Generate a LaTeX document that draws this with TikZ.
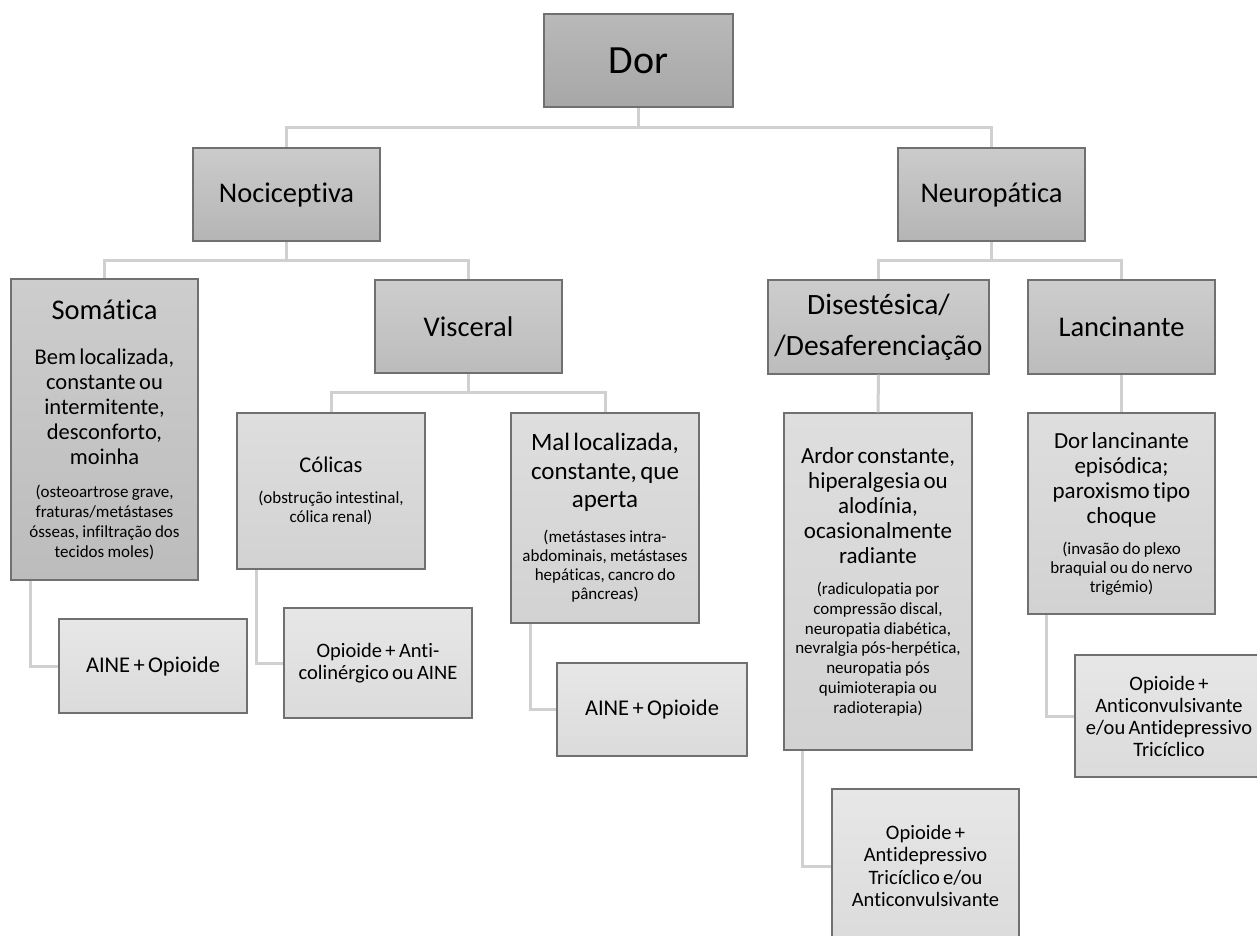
\documentclass[tikz,border=0pt]{standalone}
\usepackage{fontspec}
\setmainfont[RawFeature={-liga;-calt;-dlig;-clig}]{Carlito}
\newcommand\fs[2]{\fontsize{#1pt}{#2pt}\selectfont}
\definecolor{bordc}{HTML}{707070}
\definecolor{connc}{HTML}{D0D0D0}
\definecolor{gat}{HTML}{B9B9B9}\definecolor{gab}{HTML}{A7A7A7}
\definecolor{gbt}{HTML}{CBCBCB}\definecolor{gbb}{HTML}{B5B5B5}
\definecolor{gct}{HTML}{CDCDCD}\definecolor{gcb}{HTML}{BCBCBC}
\definecolor{gdt}{HTML}{DEDEDE}\definecolor{gdb}{HTML}{D2D2D2}
\definecolor{get}{HTML}{E7E7E7}\definecolor{geb}{HTML}{DBDBDB}
\begin{document}
\begin{tikzpicture}[x=1pt,y=-1pt,
  box/.style={draw=bordc, line width=1.3pt, align=center, inner xsep=3pt, inner ysep=0pt, text=black},
  la/.style={box, top color=gat, bottom color=gab},
  lb/.style={box, top color=gbt, bottom color=gbb},
  lc/.style={box, top color=gct, bottom color=gcb},
  ld/.style={box, top color=gdt, bottom color=gdb},
  le/.style={box, top color=get, bottom color=geb},
  conn/.style={draw=connc, line width=3pt}]
\useasboundingbox (0,0) rectangle (1257,936);

\node[la, minimum width=189pt, text width=183pt, minimum height=93pt] (dor) at (638.5,60.5) {\fs{40}{46}Dor};
\node[lb, minimum width=187pt, text width=181pt, minimum height=93pt] (noc) at (286.5,194.5) {\fs{28.5}{33}Nociceptiva};
\node[lb, minimum width=187pt, text width=181pt, minimum height=93pt] (neu) at (991.5,194.5) {\fs{28.5}{33}Neuropática};

\node[lc, minimum width=187pt, text width=181pt, minimum height=301pt] (som) at (104.5,429.5)
 {\fs{28.5}{33}Somática\par\vspace{20pt}\fs{22.5}{25}Bem localizada,\\constante ou\\intermitente,\\desconforto,\\moinha\par\vspace{13pt}\fs{17}{20}(osteoartrose grave,\\fraturas/metástases\\ósseas, infiltração dos\\tecidos moles)\par};
\node[lc, minimum width=187pt, text width=181pt, minimum height=93pt] (vis) at (468.5,326.5) {\fs{28.5}{33}Visceral};

\node[lc, minimum width=221pt, text width=215pt, minimum height=94pt] (dis) at (878.5,327) {\fs{29.5}{41}Disestésica/\\/Desaferenciação\par};
\node[lc, minimum width=187pt, text width=181pt, minimum height=94pt] (lan) at (1121.5,327) {\fs{28.5}{33}Lancinante};

\node[ld, minimum width=188pt, text width=182pt, minimum height=156pt] (col) at (331,491)
 {\fs{22.5}{25}Cólicas\par\vspace{12pt}\fs{17}{19}(obstrução intestinal,\\cólica renal)\par};
\node[ld, minimum width=188pt, text width=182pt, minimum height=210pt] (mal) at (605,518)
 {\fs{25}{28.5}Mal localizada,\\constante, que\\aperta\par\vspace{16pt}\fs{17}{19}(metástases intra-\\abdominais, metástases\\hepáticas, cancro do\\pâncreas)\par};
\node[ld, minimum width=188pt, text width=182pt, minimum height=337pt] (ard) at (878,581.5)
 {\fs{23}{25}Ardor constante,\\hiperalgesia ou\\alodínia,\\ocasionalmente\\radiante\par\vspace{12pt}\fs{17}{19.7}(radiculopatia por\\compressão discal,\\neuropatia diabética,\\nevralgia pós-herpética,\\neuropatia pós\\quimioterapia ou\\radioterapia)\par};
\node[ld, minimum width=187pt, text width=181pt, minimum height=201pt] (dla) at (1121.5,513.5)
 {\fs{23}{25}Dor lancinante\\episódica;\\paroxismo tipo\\choque\par\vspace{12pt}\fs{17}{19}(invasão do plexo\\braquial ou do nervo\\trigémio)\par};

\node[le, minimum width=188pt, text width=182pt, minimum height=94pt] (tr1) at (153,666) {\fs{22.5}{25}AINE + Opioide};
\node[le, minimum width=188pt, text width=182pt, minimum height=110pt] (tr2) at (378,663) {\fs{20.5}{22}Opioide + Anti-\\colinérgico ou AINE\par};
\node[le, minimum width=190pt, text width=184pt, minimum height=93pt] (tr3) at (652,709.5) {\fs{22.5}{25}AINE + Opioide};
\node[le, minimum width=187pt, text width=181pt, minimum height=154pt] (tr4) at (925.5,866) {\fs{20.5}{22.5}Opioide +\\Antidepressivo\\Tricíclico e/ou\\Anticonvulsivante\par};
\node[le, minimum width=188pt, text width=182pt, minimum height=122pt] (tr5) at (1169,716) {\fs{20.5}{22}Opioide +\\Anticonvulsivante\\e/ou Antidepressivo\\Tricíclico\par};

% connectors
\draw[conn] (dor.south) -- ++(0,21);
\draw[conn] (noc.north) -- ++(0,-20) -| (neu.north);
\draw[conn] (noc.south) -- ++(0,20);
\draw[conn] (som.north) -- ++(0,-18) -| (vis.north);
\draw[conn] (neu.south) -- ++(0,20);
\draw[conn] (dis.north) -- ++(0,-19) -| (lan.north);
\draw[conn] (vis.south) -- ++(0,20);
\draw[conn] (col.north) -- ++(0,-20) -| (mal.north);
\draw[conn] (dis.south) -- (ard.north);
\draw[conn] (lan.south) -- (dla.north);
\draw[conn] ([xshift=20pt]som.south west) |- (tr1.west);
\draw[conn] ([xshift=20pt]col.south west) |- (tr2.west);
\draw[conn] ([xshift=20pt]mal.south west) |- (tr3.west);
\draw[conn] ([xshift=19pt]ard.south west) |- (tr4.west);
\draw[conn] ([xshift=19pt]dla.south west) |- (tr5.west);
\end{tikzpicture}
\end{document}
